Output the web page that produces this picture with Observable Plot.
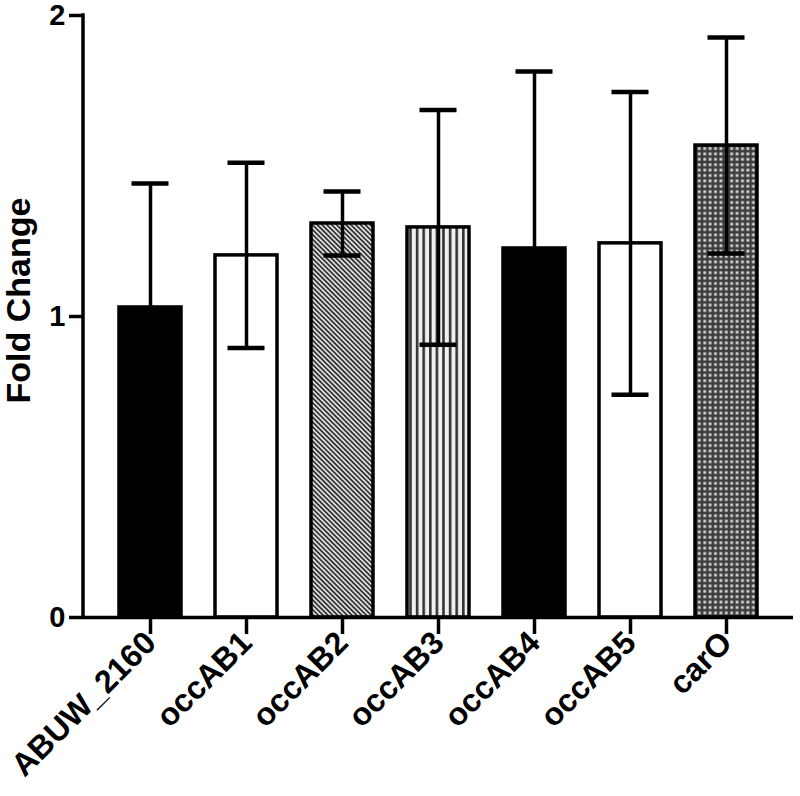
<!DOCTYPE html>
<html><head><meta charset="utf-8">
<script src="https://cdn.jsdelivr.net/npm/d3@7"></script>
<script src="https://cdn.jsdelivr.net/npm/@observablehq/plot@0.6"></script>
<style>html,body{margin:0;padding:0;background:#fff}</style>
</head><body><div id="chart"></div>
<script>
const categories = ["ABUW_2160", "occAB1", "occAB2", "occAB3", "occAB4", "occAB5", "carO"];
const means = [1.03, 1.203, 1.309, 1.296, 1.226, 1.243, 1.568];
const errors = [0.412, 0.308, 0.106, 0.39, 0.588, 0.503, 0.359];
const yTicks = [0, 1, 2];
const yLabel = "Fold Change";

const fillFor = {
  "ABUW_2160": "black", "occAB1": "white", "occAB2": "url(#hatch)",
  "occAB3": "url(#vstripe)", "occAB4": "black", "occAB5": "white", "carO": "url(#grid)"
};

const data = categories.map((c, i) => ({cat: c, mean: means[i], lo: means[i] - errors[i], hi: means[i] + errors[i], fill: fillFor[c]}));

const yAxisLine = (index, scales, values, dims) =>
  d3.create("svg:line")
    .attr("x1", dims.marginLeft).attr("x2", dims.marginLeft)
    .attr("y1", scales.y(0) + 1.75).attr("y2", scales.y(2) - 1.75)
    .attr("stroke", "black").attr("stroke-width", 3.5).node();

const svg = Plot.plot({
  width: 800, height: 796,
  marginLeft: 83, marginRight: 7, marginTop: 15, marginBottom: 179,
  x: {domain: categories, paddingInner: 0.359, paddingOuter: 0.352, label: null},
  y: {domain: [0, 2], label: null},
  color: {type: "identity"},
  style: {fontFamily: "'Liberation Sans', Arial, sans-serif", background: "white", color: "black"},
  marks: [
    Plot.barY(data, {x: "cat", y: "mean", fill: "fill", stroke: "black", strokeWidth: 3.5}),
    Plot.ruleX(data, {x: "cat", y1: "lo", y2: "hi", stroke: "black", strokeWidth: 3.5}),
    Plot.tickY(data, {x: "cat", y: "hi", insetLeft: 12.5, insetRight: 12.5, stroke: "black", strokeWidth: 4.5}),
    Plot.tickY(data, {x: "cat", y: "lo", insetLeft: 12.5, insetRight: 12.5, stroke: "black", strokeWidth: 4.5}),
    Plot.ruleY([0], {stroke: "black", strokeWidth: 3.5}),
    yAxisLine,
    Plot.axisY({ticks: yTicks, tickSize: 14, tickPadding: 4, fontSize: 29, fontWeight: "bold", strokeWidth: 3.5, tickFormat: d => String(d), label: null}),
    Plot.axisX({tickSize: 17, tickRotate: -45, tickPadding: 3, fontSize: 32, fontWeight: "bold", strokeWidth: 3.5, label: null}),
    Plot.text([yLabel], {text: d => d, frameAnchor: "left", textAnchor: "middle", rotate: -90, dx: -64, dy: -16, fontSize: 34, fontWeight: "bold", fill: "black"})
  ]
});

const defs = d3.select(svg).insert("defs", ":first-child");
const h = defs.append("pattern").attr("id", "hatch").attr("patternUnits", "userSpaceOnUse")
  .attr("width", 3.4).attr("height", 3.4).attr("patternTransform", "rotate(-45)");
h.append("rect").attr("width", 3.4).attr("height", 3.4).attr("fill", "#dcdcdc");
h.append("rect").attr("width", 1.6).attr("height", 3.4).attr("fill", "#2a2a2a");
const v = defs.append("pattern").attr("id", "vstripe").attr("patternUnits", "userSpaceOnUse")
  .attr("width", 6.6).attr("height", 10);
v.append("rect").attr("width", 6.6).attr("height", 10).attr("fill", "#f0f0f0");
v.append("rect").attr("x", 0).attr("width", 2.6).attr("height", 10).attr("fill", "#333");
const g = defs.append("pattern").attr("id", "grid").attr("patternUnits", "userSpaceOnUse")
  .attr("width", 5.4).attr("height", 5.4);
g.append("rect").attr("width", 5.4).attr("height", 5.4).attr("fill", "#3c3c3c");
g.append("rect").attr("x", 1.3).attr("y", 1.3).attr("width", 2.8).attr("height", 2.8).attr("fill", "#d4d4d4");

document.getElementById("chart").appendChild(svg);
</script>
</body></html>
